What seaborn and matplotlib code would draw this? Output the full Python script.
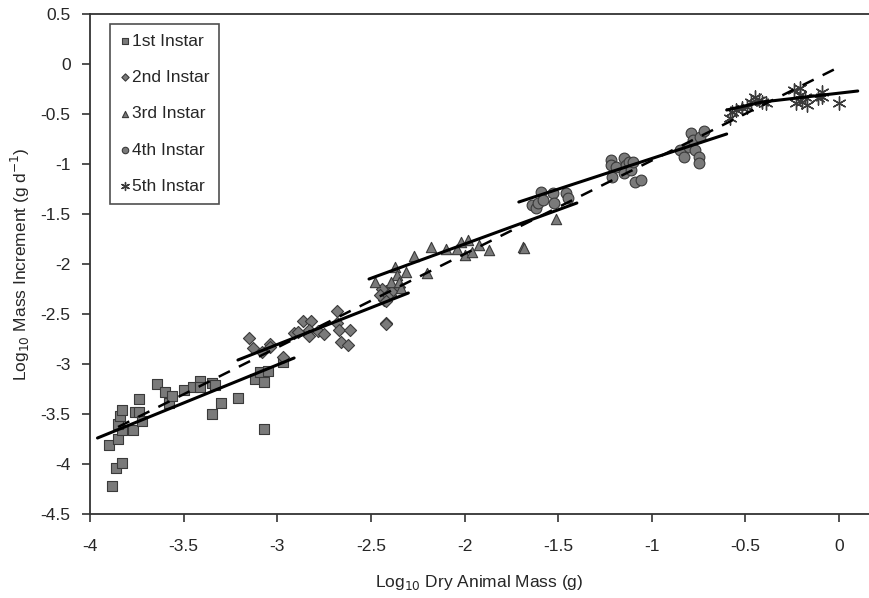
import numpy as np
import pandas as pd
import matplotlib
matplotlib.use("Agg")
import matplotlib.pyplot as plt
import seaborn as sns

############################  DATA  ############################

inst1_x = [-3.88, -3.86, -3.83, -3.90, -3.85, -3.83, -3.85, -3.84, -3.83, -3.77, -3.76, -3.74,
           -3.74, -3.72, -3.64, -3.60, -3.58, -3.56, -3.50, -3.45, -3.41, -3.41, -3.35, -3.33,
           -3.35, -3.30, -3.21, -3.12, -3.09, -3.07, -3.05, -3.07, -2.97]
inst1_y = [-4.22, -4.04, -3.99, -3.81, -3.75, -3.66, -3.60, -3.52, -3.46, -3.66, -3.48, -3.48,
           -3.35, -3.57, -3.20, -3.28, -3.39, -3.32, -3.26, -3.23, -3.17, -3.23, -3.19, -3.21,
           -3.50, -3.39, -3.34, -3.15, -3.08, -3.18, -3.07, -3.65, -2.98]

inst2_x = [-3.15, -3.13, -3.08, -3.04, -3.04, -2.97, -2.91, -2.89, -2.86, -2.82, -2.83, -2.83,
           -2.78, -2.75, -2.68, -2.68, -2.67, -2.61, -2.66, -2.62, -2.42, -2.43, -2.40, -2.42,
           -2.44, -2.45, -2.41, -2.42, -2.38, -2.35, -2.42]
inst2_y = [-2.74, -2.84, -2.88, -2.80, -2.83, -2.93, -2.69, -2.68, -2.57, -2.57, -2.66, -2.72,
           -2.67, -2.70, -2.47, -2.59, -2.66, -2.66, -2.78, -2.81, -2.59, -2.36, -2.31, -2.27,
           -2.25, -2.31, -2.31, -2.37, -2.26, -2.23, -2.60]

inst3_x = [-2.48, -2.37, -2.31, -2.36, -2.39, -2.35, -2.34, -2.27, -2.20, -2.18, -2.10, -2.04,
           -2.02, -1.98, -2.00, -1.96, -1.92, -1.87, -1.69, -1.68, -1.51]
inst3_y = [-2.18, -2.03, -2.08, -2.11, -2.18, -2.18, -2.24, -1.92, -2.09, -1.83, -1.85, -1.85,
           -1.78, -1.76, -1.91, -1.88, -1.81, -1.86, -1.83, -1.84, -1.55]

inst4_x = [-1.64, -1.62, -1.61, -1.59, -1.58, -1.53, -1.52, -1.46, -1.45, -1.22, -1.22, -1.21,
           -1.19, -1.15, -1.14, -1.15, -1.12, -1.11, -1.10, -1.09, -1.06, -0.85, -0.83, -0.80,
           -0.79, -0.78, -0.77, -0.75, -0.75, -0.74, -0.72]
inst4_y = [-1.41, -1.44, -1.39, -1.28, -1.36, -1.29, -1.39, -1.29, -1.34, -0.96, -1.01, -1.13,
           -1.03, -0.94, -1.01, -1.09, -0.98, -1.06, -0.98, -1.18, -1.16, -0.86, -0.93, -0.83,
           -0.69, -0.76, -0.86, -0.93, -0.99, -0.73, -0.67]

inst5_x = [-0.58, -0.57, -0.55, -0.52, -0.49, -0.47, -0.45, -0.43, -0.41, -0.39, -0.24, -0.23,
           -0.21, -0.20, -0.18, -0.17, -0.11, -0.09, -0.09, 0.00, -0.21]
inst5_y = [-0.54, -0.48, -0.46, -0.44, -0.43, -0.38, -0.33, -0.36, -0.38, -0.39, -0.26, -0.39,
           -0.31, -0.38, -0.33, -0.41, -0.34, -0.28, -0.33, -0.39, -0.24]

instar_names = ["1st Instar", "2nd Instar", "3rd Instar", "4th Instar", "5th Instar"]

# fitted regression lines (end points)
fit_x = [[-3.96, -2.91], [-3.21, -2.30], [-2.51, -1.40], [-1.71, -0.60], [-0.60, -0.41, 0.10]]
fit_y = [[-3.74, -2.94], [-2.96, -2.29], [-2.15, -1.39], [-1.38, -0.70], [-0.46, -0.38, -0.27]]
overall_x = [-3.85, 0.0]
overall_y = [-3.63, -0.03]

###################################  PLOT  ###################################

xs = [inst1_x, inst2_x, inst3_x, inst4_x, inst5_x]
ys = [inst1_y, inst2_y, inst3_y, inst4_y, inst5_y]
df = pd.concat([pd.DataFrame({"mass": x, "inc": y, "instar": n})
                for x, y, n in zip(xs, ys, instar_names)], ignore_index=True)

sns.set_style("ticks")
plt.rcParams["font.family"] = ["Liberation Sans", "DejaVu Sans"]
plt.rcParams["axes.unicode_minus"] = False

fig = plt.figure(figsize=(8.69, 5.98), dpi=100)
ax = fig.add_axes([90 / 869, 84 / 598, 779 / 869, 500 / 598])

markers = {"1st Instar": "s", "2nd Instar": "D", "3rd Instar": "^",
           "4th Instar": "o", "5th Instar": (6, 2, 0)}
sizes = {"1st Instar": 45, "2nd Instar": 38, "3rd Instar": 55, "4th Instar": 60, "5th Instar": 90}

for name in instar_names:
    sub = df[df["instar"] == name]
    star = name == "5th Instar"
    sns.scatterplot(data=sub, x="mass", y="inc", marker=markers[name], s=sizes[name],
                    color="#3a3a3a" if star else "#7a7a7a",
                    edgecolor="#3a3a3a", linewidth=1.0 if star else 0.8,
                    ax=ax, label=name, zorder=3)

# per-instar fits (solid) and the overall fit (dashed)
for fx, fy in zip(fit_x, fit_y):
    ax.plot(fx, fy, color="black", lw=2.2, zorder=4)
ax.plot(overall_x, overall_y, color="black", lw=1.8, ls=(0, (5, 4)), zorder=4)

ax.set_xlim(-4, 0.16)
ax.set_ylim(-4.5, 0.5)
ax.set_xticks(np.arange(-4, 0.01, 0.5))
ax.set_yticks(np.arange(-4.5, 0.51, 0.5))
fmt = matplotlib.ticker.FuncFormatter(lambda v, p: "{:g}".format(round(v, 1)) if abs(v) > 1e-9 else "0")
ax.xaxis.set_major_formatter(fmt)
ax.yaxis.set_major_formatter(fmt)
ax.tick_params(labelsize=12.5, length=6, width=1.2, color="#333333", pad=8)
ax.tick_params(axis="x", pad=12)

ax.spines["right"].set_visible(False)
for side in ["left", "bottom", "top"]:
    ax.spines[side].set_color("#333333")
    ax.spines[side].set_linewidth(1.3)

ax.set_xlabel("Log$_{10}$ Dry Animal Mass (g)", fontsize=12.5, labelpad=14)
ax.set_ylabel("Log$_{10}$ Mass Increment (g d$^{-1}$)", fontsize=12.5, labelpad=6)

leg = ax.legend(loc="upper left", bbox_to_anchor=(0.026, 0.98), borderaxespad=0,
                fontsize=12.5, labelspacing=1.22, handletextpad=0.1, handlelength=0.6,
                borderpad=0.55, frameon=True, fancybox=False, markerscale=0.6)
leg.get_frame().set_edgecolor("#222222")
leg.get_frame().set_linewidth(1.2)

fig.savefig("out.png", dpi=100)
